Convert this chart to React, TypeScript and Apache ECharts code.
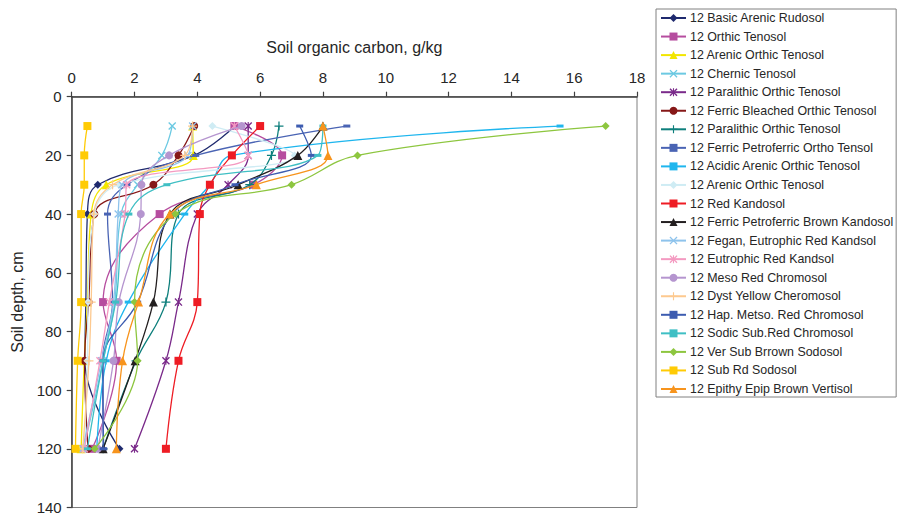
import React, { useEffect, useRef } from "react";
import * as echarts from "echarts";

const depths = [10, 20, 30, 40, 70, 90, 120];

const seriesNames = [
  "12 Basic Arenic Rudosol",
  "12 Orthic Tenosol",
  "12 Arenic Orthic Tenosol",
  "12 Chernic Tenosol",
  "12 Paralithic Orthic Tenosol",
  "12 Ferric Bleached Orthic Tenosol",
  "12 Paralithic Orthic Tenosol ",
  "12 Ferric Petroferric Ortho Tensol",
  "12 Acidic Arenic Orthic Tenosol",
  "12 Arenic Orthic Tenosol ",
  "12 Red Kandosol",
  "12 Ferric Petroferric Brown Kandosol",
  "12 Fegan, Eutrophic Red Kandsol",
  "12 Eutrophic Red Kandsol",
  "12 Meso Red Chromosol",
  "12 Dyst Yellow Cheromosol",
  "12 Hap. Metso. Red Chromosol",
  "12 Sodic Sub.Red Chromosol",
  "12 Ver Sub Brrown Sodosol",
  "12 Sub Rd Sodosol",
  "12 Epithy Epip Brown Vertisol",
];

const basicArenicRudosol = [5.2, 3.9, 0.83, 0.5, 0.45, 0.42, 1.52];
const orthicTenosol = [5.18, 6.7, 5.78, 2.8, 1.0, 1.43, 0.65];
const arenicOrthicTenosolA = [3.85, 3.87, 1.1, 0.62, 0.5, 0.4, 0.3];
const chernicTenosol = [3.2, 2.87, 2.1, 1.57, 1.37, 1.0, 0.38];
const paralithicOrthicTenosolA = [5.62, 5.62, 4.98, 4.0, 3.4, 3.0, 2.0];
const ferricBleachedOrthicTenosol = [3.9, 3.4, 2.6, 0.72, 0.54, 0.41, 0.52];
const paralithicOrthicTenosolB = [6.6, 6.36, 5.67, 3.4, 3.0, 2.05, 1.0];
const ferricPetroferricOrthoTensol = [8.76, 3.95, 1.76, 1.14, 1.3, 0.98, 1.02];
const acidicArenicOrthicTenosol = [15.55, 5.1, 4.4, 3.6, 1.8, 1.1, 0.8];
const arenicOrthicTenosolB = [4.48, 7.1, 1.5, 0.72, 0.52, 0.5, 0.4];
const redKandosol = [6.0, 5.1, 4.4, 4.08, 4.0, 3.4, 3.0];
const ferricPetroferricBrownKandosol = [8.0, 7.2, 5.3, 3.13, 2.6, 2.02, 1.0];
const feganEutrophicRedKandsol = [3.85, 3.7, 1.6, 1.48, 1.33, 0.95, 0.35];
const eutrophicRedKandsol = [5.18, 5.62, 1.75, 1.7, 1.2, 0.9, 0.4];
const mesoRedChromosol = [5.41, 3.1, 2.22, 2.2, 1.5, 1.33, 0.83];
const dystYellowCheromosol = [3.85, 3.6, 1.3, 0.7, 0.62, 0.55, 0.35];
const hapMetsoRedChromosol = [7.26, 7.63, 5.2, 3.2, 2.1, 1.0, 1.0];
const sodicSubRedChromosol = [8.0, 7.84, 3.03, 1.82, 1.4, 1.0, 0.5];
const verSubBrrownSodosol = [17.0, 9.1, 7.0, 3.3, 2.0, 2.1, 0.73];
const subRdSodosol = [0.5, 0.4, 0.4, 0.3, 0.3, 0.19, 0.12];
const epithyEpipBrownVertisol = [8.0, 8.16, 5.88, 3.12, 2.13, 1.62, 1.42];

const seriesValues = [
  basicArenicRudosol,
  orthicTenosol,
  arenicOrthicTenosolA,
  chernicTenosol,
  paralithicOrthicTenosolA,
  ferricBleachedOrthicTenosol,
  paralithicOrthicTenosolB,
  ferricPetroferricOrthoTensol,
  acidicArenicOrthicTenosol,
  arenicOrthicTenosolB,
  redKandosol,
  ferricPetroferricBrownKandosol,
  feganEutrophicRedKandsol,
  eutrophicRedKandsol,
  mesoRedChromosol,
  dystYellowCheromosol,
  hapMetsoRedChromosol,
  sodicSubRedChromosol,
  verSubBrrownSodosol,
  subRdSodosol,
  epithyEpipBrownVertisol,
];

const xTicks = [0, 2, 4, 6, 8, 10, 12, 14, 16, 18];
const yTicks = [0, 20, 40, 60, 80, 100, 120, 140];

const SYM_X = "path://M0,1.2L1.2,0L5,3.8L8.8,0L10,1.2L6.2,5L10,8.8L8.8,10L5,6.2L1.2,10L0,8.8L3.8,5Z";
const SYM_STAR =
  "path://M0,1.2L1.2,0L5,3.8L8.8,0L10,1.2L6.2,5L10,8.8L8.8,10L5,6.2L1.2,10L0,8.8L3.8,5Z M4.3,0H5.7V10H4.3Z";
const SYM_PLUS = "path://M4.3,0H5.7V4.3H10V5.7H5.7V10H4.3V5.7H0V4.3H4.3Z";
const SYM_DASH = "path://M0,0H10V3H0Z";

const styles: { color: string; symbol: string; size: number | number[] }[] = [
  { color: "#1f2a6e", symbol: "diamond", size: 8 },
  { color: "#b64d9f", symbol: "rect", size: 8 },
  { color: "#f2e600", symbol: "triangle", size: 9 },
  { color: "#6cc9e2", symbol: SYM_X, size: 8 },
  { color: "#7a2a8a", symbol: SYM_STAR, size: 8 },
  { color: "#861818", symbol: "circle", size: 8 },
  { color: "#0e7f7c", symbol: SYM_PLUS, size: 9 },
  { color: "#4a64b4", symbol: SYM_DASH, size: [7, 3] },
  { color: "#1fb6ee", symbol: SYM_DASH, size: [7, 3] },
  { color: "#cfecf4", symbol: "diamond", size: 8 },
  { color: "#ee1c24", symbol: "rect", size: 8 },
  { color: "#231f20", symbol: "triangle", size: 9 },
  { color: "#8ec3ec", symbol: SYM_X, size: 8 },
  { color: "#f49ac1", symbol: SYM_STAR, size: 8 },
  { color: "#b595cf", symbol: "circle", size: 8 },
  { color: "#fdc98f", symbol: SYM_PLUS, size: 9 },
  { color: "#3d5cb0", symbol: SYM_DASH, size: [7, 3] },
  { color: "#3fbfc4", symbol: SYM_DASH, size: [7, 3] },
  { color: "#8dc63f", symbol: "diamond", size: 8 },
  { color: "#ffcb05", symbol: "rect", size: 8 },
  { color: "#f7941d", symbol: "triangle", size: 9 },
];

const FONT = "Liberation Sans, Arial, sans-serif";

export default function App() {
  const ref = useRef<HTMLDivElement>(null);

  useEffect(() => {
    if (!ref.current) return;
    const chart = echarts.init(ref.current, undefined, { renderer: "svg" });

    const series = seriesNames.map((name, i) => ({
      name,
      type: "line",
      smooth: 0.4,
      data: seriesValues[i].map((v, j) => [v, depths[j]]),
      symbol: styles[i].symbol,
      symbolSize: styles[i].size,
      showSymbol: true,
      lineStyle: { color: styles[i].color, width: 1.3 },
      itemStyle: { color: styles[i].color },
      emphasis: { disabled: true },
      z: 2 + i,
    }));

    chart.setOption({
      animation: false,
      backgroundColor: "#ffffff",
      textStyle: { fontFamily: FONT },
      grid: {
        left: 71.7,
        top: 96.7,
        width: 565.3,
        height: 410.8,
        show: true,
        borderColor: "#808080",
        borderWidth: 1,
        backgroundColor: "#ffffff",
      },
      legend: {
        orient: "vertical",
        left: 656,
        top: 9,
        itemWidth: 25,
        itemHeight: 10,
        itemGap: 4.55,
        padding: [2, 3, 1, 4],
        borderColor: "#808080",
        borderWidth: 1,
        backgroundColor: "#ffffff",
        selectedMode: false,
        data: seriesNames,
        textStyle: {
          fontFamily: FONT,
          fontSize: 12.4,
          color: "#262626",
          lineHeight: 14,
          padding: [0, 0, 0, -1],
        },
      },
      xAxis: {
        type: "value",
        position: "top",
        min: 0,
        max: 18,
        interval: 2,
        name: "Soil organic carbon, g/kg",
        nameLocation: "middle",
        nameGap: 41,
        nameTextStyle: { fontFamily: FONT, fontSize: 16, color: "#262626" },
        axisLine: { show: true, lineStyle: { color: "#404040", width: 1.5 } },
        axisTick: { show: true, length: 5, lineStyle: { color: "#404040", width: 1.2 } },
        axisLabel: {
          fontFamily: FONT,
          fontSize: 15,
          color: "#262626",
          margin: 12,
          formatter: (v: number) => (xTicks.includes(v) ? String(v) : ""),
        },
        splitLine: { show: false },
      },
      yAxis: {
        type: "value",
        inverse: true,
        min: 0,
        max: 140,
        interval: 20,
        name: "Soil depth, cm",
        nameLocation: "middle",
        nameGap: 45,
        nameRotate: 90,
        nameTextStyle: { fontFamily: FONT, fontSize: 16, color: "#262626" },
        axisLine: { show: true, lineStyle: { color: "#404040", width: 1.5 } },
        axisTick: { show: true, length: 5, lineStyle: { color: "#404040", width: 1.2 } },
        axisLabel: {
          fontFamily: FONT,
          fontSize: 15,
          color: "#262626",
          margin: 10,
          formatter: (v: number) => (yTicks.includes(v) ? String(v) : ""),
        },
        splitLine: { show: false },
      },
      series,
    });

    return () => {
      chart.dispose();
    };
  }, []);

  return (
    <div
      ref={ref}
      style={{ position: "fixed", left: 0, top: 0, width: 897, height: 517, background: "#fff" }}
    />
  );
}
